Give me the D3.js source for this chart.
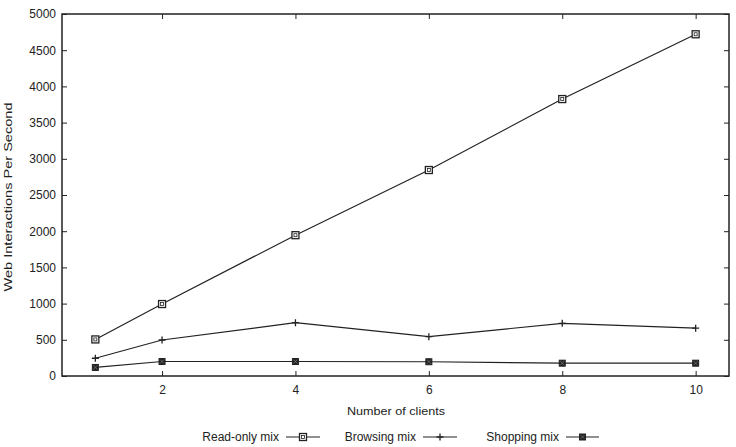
<!DOCTYPE html>
<html>
<head>
<meta charset="utf-8">
<script src="https://cdn.jsdelivr.net/npm/d3@7"></script>
<style>
  body { margin: 0; background: #fff; }
  text { font-family: "Liberation Sans", Arial, sans-serif; fill: #222; }
</style>
</head>
<body>
<div id="chart"></div>
<script>
// data
const clients = [1, 2, 4, 6, 8, 10];
const readOnly = [505, 994, 1945, 2845, 3825, 4720];
const browsing = [245, 497, 736, 543, 728, 660];
const shopping = [118, 200, 200, 197, 177, 177];
const seriesNames = ["Read-only mix", "Browsing mix", "Shopping mix"];
const xTicks = [2, 4, 6, 8, 10];
const yTicks = d3.range(0, 5001, 500);

const W = 736, H = 447;
const margin = {top: 14, right: 7, bottom: 71, left: 62};
const width = W - margin.left - margin.right;
const height = H - margin.top - margin.bottom;

const svg = d3.select("#chart").append("svg")
    .attr("width", W)
    .attr("height", H);

const g = svg.append("g")
    .attr("transform", `translate(${margin.left},${margin.top})`);

const x = d3.scaleLinear().domain([0.5, 10.5]).range([0, width]);
const y = d3.scaleLinear().domain([0, 5000]).range([height, 0]);

const tickLen = 5;
const fontSize = "12px";

// axes with inward ticks
const xAxis = g.append("g").attr("transform", `translate(0,${height})`)
    .call(d3.axisBottom(x).tickValues(xTicks).tickSize(-tickLen).tickPadding(9));
const xAxisTop = g.append("g")
    .call(d3.axisTop(x).tickValues(xTicks).tickSize(-tickLen).tickFormat(""));
const yAxis = g.append("g")
    .call(d3.axisLeft(y).tickValues(yTicks).tickSize(-tickLen).tickPadding(6).tickFormat(d3.format("d")));
const yAxisRight = g.append("g").attr("transform", `translate(${width},0)`)
    .call(d3.axisRight(y).tickValues(yTicks).tickSize(-tickLen).tickFormat(""));

[xAxis, xAxisTop, yAxis, yAxisRight].forEach(a => {
    a.select(".domain").remove();
    a.selectAll(".tick line").attr("stroke", "#222").attr("stroke-width", 1);
    a.selectAll(".tick text").style("font-size", fontSize).style("font-family", "Liberation Sans, Arial, sans-serif").attr("fill", "#333");
});

// frame
g.append("rect")
    .attr("width", width)
    .attr("height", height)
    .attr("fill", "none")
    .attr("stroke", "#222")
    .attr("stroke-width", 1.5);

// axis titles
svg.append("text")
    .attr("x", 396)
    .attr("y", 415)
    .attr("text-anchor", "middle")
    .attr("textLength", 98)
    .attr("lengthAdjust", "spacingAndGlyphs")
    .style("font-size", "11px")
    .text("Number of clients");

svg.append("text")
    .attr("transform", `translate(12,197) rotate(-90)`)
    .attr("text-anchor", "middle")
    .attr("textLength", 189)
    .attr("lengthAdjust", "spacingAndGlyphs")
    .style("font-size", "11.5px")
    .text("Web Interactions Per Second");

// marker drawers
function drawMarker(sel, type, cx, cy) {
    if (type === 0) {
        sel.append("rect").attr("x", cx - 3.5).attr("y", cy - 3.5).attr("width", 7).attr("height", 7)
            .attr("fill", "#fff").attr("stroke", "#222").attr("stroke-width", 1.3);
        sel.append("rect").attr("x", cx - 1.5).attr("y", cy - 1.5).attr("width", 3).attr("height", 3)
            .attr("fill", "none").attr("stroke", "#222").attr("stroke-width", 0.8);
    } else if (type === 1) {
        sel.append("path").attr("d", `M${cx - 3.5},${cy}H${cx + 3.5}M${cx},${cy - 3.5}V${cy + 3.5}`)
            .attr("stroke", "#222").attr("stroke-width", 1.3);
    } else {
        sel.append("rect").attr("x", cx - 3).attr("y", cy - 3).attr("width", 6).attr("height", 6)
            .attr("fill", "#222").attr("stroke", "#222").attr("stroke-width", 1);
        sel.append("path").attr("d", `M${cx - 2},${cy - 2}L${cx + 2},${cy + 2}M${cx - 2},${cy + 2}L${cx + 2},${cy - 2}`)
            .attr("stroke", "#888").attr("stroke-width", 0.6);
    }
}

const seriesData = [readOnly, browsing, shopping];
const line = d3.line().x(d => x(d[0])).y(d => y(d[1]));

seriesData.forEach((vals, si) => {
    const pts = clients.map((c, i) => [c, vals[i]]);
    g.append("path")
        .datum(pts)
        .attr("d", line)
        .attr("fill", "none")
        .attr("stroke", "#222")
        .attr("stroke-width", 1.2);
    const mg = g.append("g");
    pts.forEach(p => drawMarker(mg, si, x(p[0]), y(p[1])));
});

// legend
const legendY = 437;
const legendItems = [
    {textEnd: 279, lineStart: 286, lineEnd: 320},
    {textEnd: 416, lineStart: 423, lineEnd: 457},
    {textEnd: 559, lineStart: 566, lineEnd: 599}
];
legendItems.forEach((it, i) => {
    svg.append("text")
        .attr("x", it.textEnd)
        .attr("y", legendY + 4)
        .attr("text-anchor", "end")
        .style("font-size", fontSize)
        .text(seriesNames[i]);
    svg.append("line")
        .attr("x1", it.lineStart).attr("x2", it.lineEnd)
        .attr("y1", legendY).attr("y2", legendY)
        .attr("stroke", "#222").attr("stroke-width", 1.2);
    drawMarker(svg.append("g"), i, (it.lineStart + it.lineEnd) / 2, legendY);
});
</script>
</body>
</html>
